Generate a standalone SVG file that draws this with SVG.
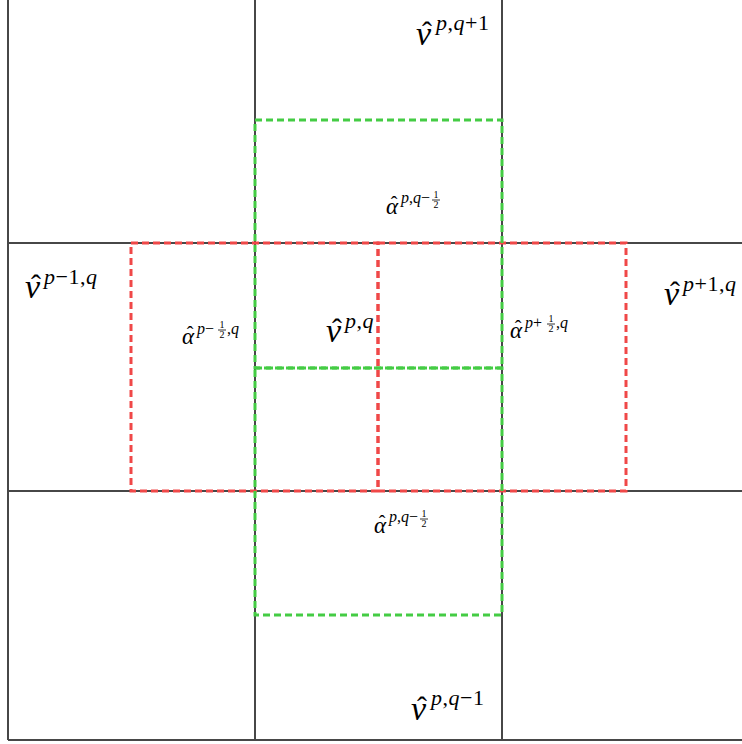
<svg xmlns="http://www.w3.org/2000/svg" width="742" height="744" viewBox="0 0 742 744">
<style>
.grid{stroke:#474747;stroke-width:2;fill:none}
.g{stroke:#44cc44;stroke-width:3;fill:none;stroke-dasharray:7 4}
.r{stroke:#f04848;stroke-width:3;fill:none;stroke-dasharray:7 4}
.vm,.vs,.vh,.am,.as,.ah,.fr{font-family:'Liberation Serif','Times New Roman',serif;fill:#000}
.vm{font-style:italic;font-size:34px}
.vs{font-style:italic;font-size:22px;letter-spacing:0.5px}
.vh{font-size:30px;text-anchor:middle}
.am{font-style:italic;font-size:23px}
.as{font-style:italic;font-size:16px}
.ah{font-size:20px;text-anchor:middle}
.n{font-style:normal}
.fr{font-size:10px;text-anchor:middle}
.fl{stroke:#000;stroke-width:0.8}
</style>
<rect width="742" height="744" fill="#fff"/>
<g id="grid">
<line class="grid" x1="8" y1="0" x2="8" y2="740"/>
<line class="grid" x1="255" y1="0" x2="255" y2="740"/>
<line class="grid" x1="502" y1="0" x2="502" y2="740"/>
<line class="grid" x1="8" y1="243" x2="742" y2="243"/>
<line class="grid" x1="8" y1="491" x2="742" y2="491"/>
<line class="grid" x1="8" y1="740" x2="742" y2="740"/>
</g>
<g id="red-cells">
<rect class="r" x="131" y="243" width="247" height="248"/>
<rect class="r" x="378" y="243" width="248" height="248"/>
</g>
<g id="green-cells">
<rect class="g" x="255" y="120" width="247" height="248"/>
<rect class="g" x="255" y="368" width="247" height="247"/>
</g>
<g id="labels" font-family="Liberation Serif, serif">
<g id="v-top"><text class="vm" x="416" y="45">v</text><text class="vh" x="427" y="42">ˆ</text><text class="vs" x="436" y="30">p<tspan class="n">,</tspan>q<tspan class="n">+1</tspan></text></g>
<g id="v-center"><text class="vm" x="326" y="342">v</text><text class="vh" x="337" y="339">ˆ</text><text class="vs" x="345" y="328">p<tspan class="n">,</tspan>q</text></g>
<g id="v-right"><text class="vm" x="664" y="305">v</text><text class="vh" x="675" y="302">ˆ</text><text class="vs" x="683" y="291">p<tspan class="n">+1,</tspan>q</text></g>
<g id="v-left"><text class="vm" x="25" y="298">v</text><text class="vh" x="36" y="295">ˆ</text><text class="vs" x="44" y="284">p<tspan class="n">−1,</tspan>q</text></g>
<g id="v-bottom"><text class="vm" x="411" y="720">v</text><text class="vh" x="422" y="717">ˆ</text><text class="vs" x="431" y="705">p<tspan class="n">,</tspan>q<tspan class="n">−1</tspan></text></g>
<g id="a-top"><text class="am" x="386" y="214">α</text><text class="ah" x="394" y="211">ˆ</text><text class="as" x="401" y="203">p<tspan class="n">,</tspan>q<tspan class="n">−</tspan></text>
<text class="fr" x="436" y="198">1</text><line class="fl" x1="432" y1="200" x2="440" y2="200"/><text class="fr" x="436" y="208">2</text></g>
<g id="a-left"><text class="am" x="182" y="344">α</text><text class="ah" x="190" y="341">ˆ</text><text class="as" x="197" y="334">p<tspan class="n">−</tspan></text>
<text class="fr" x="222" y="328">1</text><line class="fl" x1="218" y1="330" x2="226" y2="330"/><text class="fr" x="222" y="338">2</text><text class="as" x="227" y="334"><tspan class="n">,</tspan>q</text></g>
<g id="a-right"><text class="am" x="510" y="338">α</text><text class="ah" x="518" y="335">ˆ</text><text class="as" x="525" y="328">p<tspan class="n">+</tspan></text>
<text class="fr" x="551" y="322">1</text><line class="fl" x1="547" y1="324" x2="555" y2="324"/><text class="fr" x="551" y="332">2</text><text class="as" x="556" y="328"><tspan class="n">,</tspan>q</text></g>
<g id="a-bottom"><text class="am" x="374" y="533">α</text><text class="ah" x="382" y="530">ˆ</text><text class="as" x="389" y="522">p<tspan class="n">,</tspan>q<tspan class="n">−</tspan></text>
<text class="fr" x="424" y="517">1</text><line class="fl" x1="420" y1="519" x2="428" y2="519"/><text class="fr" x="424" y="527">2</text></g>
</g>
</svg>
